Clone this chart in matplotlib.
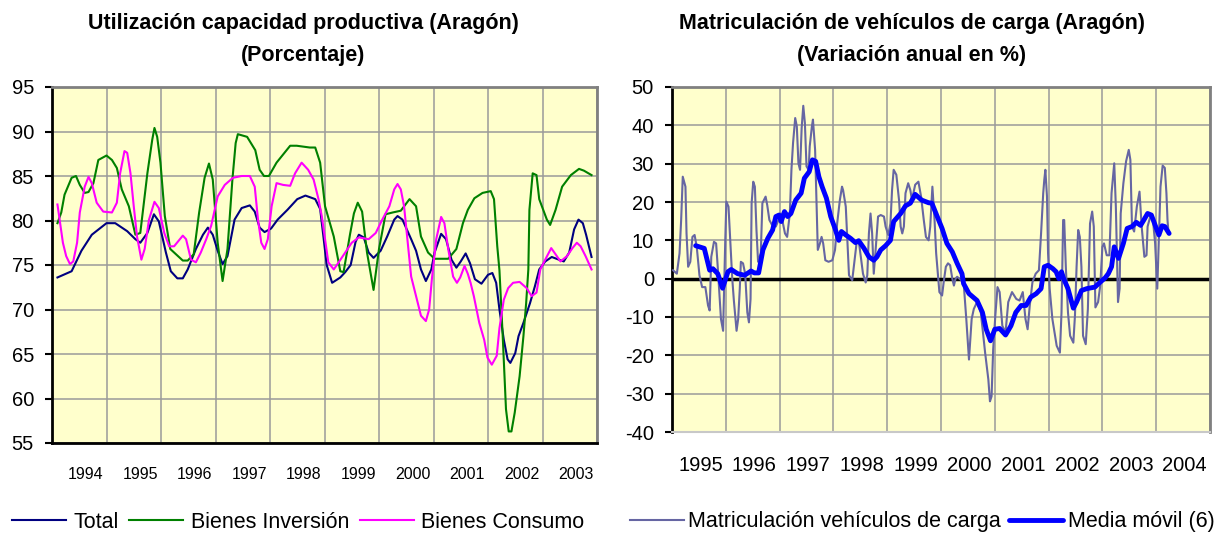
import matplotlib
matplotlib.use('Agg')
import matplotlib.pyplot as plt

plt.rcParams['font.family'] = ['Liberation Sans', 'DejaVu Sans']
plt.rcParams['axes.unicode_minus'] = False

# ---- Izquierda: utilización capacidad productiva (fecha decimal, %) ----
total_x = [1994.10, 1994.36, 1994.54, 1994.73, 1995.00, 1995.16, 1995.38, 1995.53, 1995.62, 1995.75,
           1995.87, 1995.96, 1996.09, 1996.18, 1996.30, 1996.40, 1996.49, 1996.64, 1996.77, 1996.86,
           1996.95, 1997.04, 1997.13, 1997.22, 1997.35, 1997.48, 1997.63, 1997.72, 1997.81, 1997.90,
           1998.02, 1998.14, 1998.32, 1998.50, 1998.65, 1998.83, 1998.92, 1998.98, 1999.04, 1999.14,
           1999.29, 1999.38, 1999.48, 1999.57, 1999.63, 1999.72, 1999.81, 1999.90, 2000.03, 2000.15,
           2000.28, 2000.34, 2000.43, 2000.59, 2000.68, 2000.77, 2000.86, 2000.96, 2001.02, 2001.14,
           2001.23, 2001.33, 2001.42, 2001.50, 2001.59, 2001.67, 2001.76, 2001.88, 2002.00, 2002.08,
           2002.15, 2002.21, 2002.29, 2002.36, 2002.41, 2002.50, 2002.56, 2002.65, 2002.77, 2002.86,
           2002.94, 2003.05, 2003.17, 2003.30, 2003.39, 2003.49, 2003.58, 2003.66, 2003.74, 2003.80,
           2003.90]
total_y = [73.6, 74.3, 76.6, 78.4, 79.7, 79.7, 78.8, 77.9, 77.5, 78.6,
           80.7, 79.9, 76.4, 74.3, 73.5, 73.5, 74.5, 76.8, 78.4, 79.2,
           78.4, 76.6, 75.1, 76.0, 80.1, 81.4, 81.7, 81.0, 79.2, 78.7,
           79.1, 80.1, 81.2, 82.4, 82.8, 82.4, 81.3, 78.2, 75.0, 73.0,
           73.6, 74.2, 75.0, 77.6, 78.4, 78.1, 76.4, 75.8, 76.6, 78.2,
           80.1, 80.5, 80.1, 77.9, 76.6, 74.5, 73.2, 74.5, 76.4, 78.5,
           77.9, 75.6, 74.7, 75.4, 76.3, 75.2, 73.4, 72.9, 73.9, 74.1,
           73.0, 70.0, 66.6, 64.4, 64.0, 65.1, 67.0, 68.5, 70.7, 72.6,
           74.5, 75.4, 75.9, 75.6, 75.4, 76.4, 79.0, 80.1, 79.7, 78.4,
           75.9]

inversion_x = [1994.10, 1994.17, 1994.23, 1994.36, 1994.44, 1994.51, 1994.60, 1994.67, 1994.76, 1994.85,
               1995.00, 1995.10, 1995.19, 1995.28, 1995.41, 1995.53, 1995.62, 1995.75, 1995.84, 1995.88,
               1995.93, 1995.99, 1996.07, 1996.17, 1996.40, 1996.49, 1996.60, 1996.70, 1996.80, 1996.88,
               1996.95, 1997.04, 1997.13, 1997.22, 1997.31, 1997.37, 1997.41, 1997.58, 1997.73, 1997.81,
               1997.89, 1997.98, 1998.12, 1998.37, 1998.49, 1998.73, 1998.83, 1998.92, 1999.01, 1999.17,
               1999.29, 1999.35, 1999.47, 1999.54, 1999.61, 1999.69, 1999.78, 1999.90, 2000.00, 2000.12,
               2000.25, 2000.40, 2000.56, 2000.68, 2000.77, 2000.90, 2001.02, 2001.27, 2001.42, 2001.54,
               2001.63, 2001.75, 2001.90, 2002.05, 2002.11, 2002.17, 2002.21, 2002.27, 2002.33, 2002.38,
               2002.43, 2002.49, 2002.58, 2002.65, 2002.70, 2002.74, 2002.76, 2002.82, 2002.89, 2002.94,
               2003.08, 2003.14, 2003.24, 2003.36, 2003.52, 2003.67, 2003.76, 2003.90]
inversion_y = [79.7, 80.9, 82.9, 84.8, 85.0, 84.0, 83.1, 83.2, 84.2, 86.8,
               87.3, 86.8, 85.9, 83.5, 81.6, 78.4, 78.6, 85.3, 89.1, 90.4,
               89.4, 86.5, 80.5, 76.8, 75.5, 75.5, 76.2, 80.9, 84.8, 86.4,
               84.6, 77.5, 73.2, 76.8, 84.6, 88.7, 89.7, 89.4, 87.9, 85.7,
               85.0, 85.0, 86.5, 88.4, 88.4, 88.2, 88.2, 86.5, 81.6, 78.2,
               74.3, 74.2, 78.5, 80.8, 82.0, 81.0, 76.4, 72.2, 76.8, 80.7,
               80.9, 81.1, 82.4, 81.6, 78.2, 76.4, 75.7, 75.7, 76.8, 79.7,
               81.2, 82.5, 83.1, 83.3, 82.4, 77.1, 74.4, 67.0, 58.8, 56.3,
               56.3, 58.4, 62.5, 67.0, 70.7, 74.5, 81.2, 85.3, 85.1, 82.4,
               80.1, 79.5, 81.2, 83.8, 85.1, 85.8, 85.6, 85.1]

consumo_x = [1994.10, 1994.14, 1994.20, 1994.26, 1994.33, 1994.39, 1994.46, 1994.51, 1994.60, 1994.67,
             1994.73, 1994.82, 1994.94, 1995.10, 1995.19, 1995.25, 1995.33, 1995.38, 1995.44, 1995.50,
             1995.56, 1995.64, 1995.70, 1995.78, 1995.88, 1995.96, 1996.06, 1996.15, 1996.24, 1996.40,
             1996.46, 1996.55, 1996.64, 1996.73, 1996.83, 1996.92, 1997.04, 1997.17, 1997.32, 1997.48,
             1997.63, 1997.72, 1997.78, 1997.84, 1997.90, 1997.96, 1998.03, 1998.12, 1998.24, 1998.37,
             1998.46, 1998.58, 1998.70, 1998.80, 1998.89, 1998.95, 1999.01, 1999.07, 1999.17, 1999.26,
             1999.38, 1999.50, 1999.63, 1999.81, 1999.94, 2000.06, 2000.19, 2000.28, 2000.34, 2000.40,
             2000.46, 2000.59, 2000.68, 2000.77, 2000.86, 2000.92, 2000.97, 2001.05, 2001.14, 2001.20,
             2001.27, 2001.36, 2001.43, 2001.49, 2001.57, 2001.63, 2001.68, 2001.74, 2001.84, 2001.93,
             2001.99, 2002.07, 2002.16, 2002.21, 2002.29, 2002.37, 2002.46, 2002.58, 2002.71, 2002.80,
             2002.89, 2002.96, 2003.05, 2003.16, 2003.24, 2003.33, 2003.45, 2003.55, 2003.63, 2003.70,
             2003.79, 2003.90]
consumo_y = [81.8, 80.1, 77.5, 76.0, 75.1, 75.4, 77.5, 80.9, 83.8, 84.9,
             84.2, 82.0, 81.0, 80.9, 82.0, 85.3, 87.8, 87.6, 85.3, 81.6,
             78.2, 75.6, 76.8, 80.1, 82.1, 81.4, 78.6, 77.1, 77.1, 78.3,
             77.9, 75.6, 75.3, 76.4, 77.9, 79.4, 82.7, 84.0, 84.8, 85.0,
             85.0, 83.8, 80.1, 77.5, 76.8, 77.9, 81.6, 84.2, 84.0, 83.9,
             85.3, 86.5, 85.7, 84.6, 82.4, 80.5, 77.9, 75.3, 74.5, 75.3,
             76.4, 77.5, 78.1, 77.9, 78.6, 80.1, 81.6, 83.5, 84.1, 83.5,
             81.6, 73.7, 71.5, 69.3, 68.7, 70.0, 73.4, 77.9, 80.4, 79.7,
             76.8, 73.7, 73.0, 73.6, 74.9, 74.0, 73.0, 71.5, 68.5, 66.6,
             64.6, 63.8, 64.8, 67.9, 71.1, 72.4, 73.0, 73.1, 72.4, 71.5,
             71.9, 74.5, 75.6, 76.9, 76.2, 75.4, 76.0, 76.9, 77.5, 77.1,
             76.0, 74.5]

anios_izq = list(range(1994, 2004))

# ---- Derecha: matriculación vehículos de carga (variación anual %) ----
matric_x = [1995.02, 1995.09, 1995.14, 1995.17, 1995.20, 1995.25, 1995.27, 1995.30, 1995.34, 1995.38,
            1995.42, 1995.46, 1995.51, 1995.56, 1995.62, 1995.67, 1995.70, 1995.73, 1995.78, 1995.82,
            1995.85, 1995.91, 1995.95, 1995.99, 1996.01, 1996.05, 1996.09, 1996.12, 1996.15, 1996.20,
            1996.23, 1996.26, 1996.28, 1996.32, 1996.36, 1996.40, 1996.43, 1996.46, 1996.48, 1996.51,
            1996.54, 1996.57, 1996.60, 1996.65, 1996.68, 1996.74, 1996.77, 1996.81, 1996.86, 1996.93,
            1996.98, 1997.02, 1997.05, 1997.10, 1997.14, 1997.19, 1997.22, 1997.25, 1997.29, 1997.32,
            1997.35, 1997.38, 1997.41, 1997.44, 1997.47, 1997.50, 1997.54, 1997.56, 1997.60, 1997.62,
            1997.66, 1997.68, 1997.71, 1997.75, 1997.78, 1997.81, 1997.85, 1997.91, 1997.98, 1998.03,
            1998.07, 1998.12, 1998.16, 1998.18, 1998.23, 1998.26, 1998.29, 1998.35, 1998.43, 1998.47,
            1998.51, 1998.55, 1998.60, 1998.63, 1998.66, 1998.69, 1998.72, 1998.75, 1998.78, 1998.83,
            1998.88, 1998.94, 1998.97, 1999.02, 1999.06, 1999.09, 1999.12, 1999.17, 1999.22, 1999.25,
            1999.28, 1999.31, 1999.34, 1999.39, 1999.43, 1999.46, 1999.52, 1999.58, 1999.63, 1999.68,
            1999.72, 1999.77, 1999.80, 1999.84, 1999.88, 1999.91, 1999.97, 2000.02, 2000.05, 2000.09,
            2000.13, 2000.17, 2000.21, 2000.24, 2000.27, 2000.30, 2000.42, 2000.47, 2000.52, 2000.57,
            2000.61, 2000.67, 2000.74, 2000.82, 2000.88, 2000.91, 2000.94, 2000.97, 2001.01, 2001.05,
            2001.09, 2001.14, 2001.20, 2001.25, 2001.32, 2001.36, 2001.40, 2001.46, 2001.52, 2001.57,
            2001.61, 2001.65, 2001.70, 2001.76, 2001.82, 2001.86, 2001.90, 2001.92, 2001.94, 2001.97,
            2001.99, 2002.02, 2002.07, 2002.15, 2002.21, 2002.24, 2002.27, 2002.29, 2002.32, 2002.36,
            2002.40, 2002.46, 2002.49, 2002.52, 2002.55, 2002.58, 2002.61, 2002.64, 2002.69, 2002.73,
            2002.77, 2002.81, 2002.84, 2002.87, 2002.92, 2002.96, 2003.00, 2003.03, 2003.08, 2003.13,
            2003.17, 2003.22, 2003.25, 2003.29, 2003.32, 2003.34, 2003.39, 2003.44, 2003.49, 2003.52,
            2003.55, 2003.59, 2003.64, 2003.69, 2003.73, 2003.78, 2003.82, 2003.84, 2003.89, 2003.94,
            2003.98, 2004.02, 2004.05, 2004.08, 2004.12, 2004.16, 2004.19, 2004.21, 2004.23]
matric_y = [2.2, 1.3, 6.6, 15.3, 26.6, 24.0, 11.8, 3.1, 4.4, 10.9,
            11.4, 8.3, 0.9, -2.2, -2.2, -7.0, -8.3, 5.7, 9.6, 9.2,
            3.1, -10.5, -13.6, 10.0, 20.1, 18.8, 8.3, 0.0, -5.7, -13.6,
            -10.5, -2.6, 4.4, 4.0, 1.3, -8.8, -11.4, -5.3, 19.7, 25.3,
            24.0, 12.7, 4.4, 6.6, 19.7, 21.4, 19.2, 15.3, 14.0, 13.6,
            15.3, 17.0, 15.3, 11.8, 10.9, 17.0, 28.4, 35.4, 41.9, 39.7,
            30.1, 28.4, 39.3, 45.1, 40.6, 29.3, 28.4, 34.5, 39.7, 41.5,
            33.6, 23.1, 7.5, 9.2, 10.9, 9.2, 4.8, 4.4, 4.8, 7.5,
            14.4, 20.5, 24.0, 23.1, 18.8, 10.0, 0.9, -0.4, 9.2, 10.0,
            5.7, 1.3, -1.0, 0.9, 11.8, 17.0, 11.8, 1.3, 6.6, 16.2,
            16.6, 16.2, 13.6, 11.4, 14.4, 23.1, 28.4, 27.1, 20.5, 13.6,
            11.8, 13.6, 22.3, 24.9, 23.1, 20.5, 24.5, 25.3, 21.4, 15.3,
            10.9, 10.0, 13.6, 24.0, 15.3, 6.6, -3.5, -4.4, -0.9, 3.1,
            4.0, 3.5, 0.0, -1.8, 0.0, 0.5, -0.9, -10.5, -21.1, -10.5,
            -7.9, -6.1, -8.8, -19.3, -26.3, -32.0, -30.7, -18.4, -9.6, -2.2,
            -3.5, -12.3, -14.0, -6.1, -3.5, -4.4, -5.3, -5.7, -3.5, -10.5,
            -13.2, -7.0, -0.9, 1.3, 2.2, 11.8, 22.3, 25.8, 28.4, 21.4,
            6.6, -2.6, -10.5, -17.5, -19.3, -8.8, 15.3, 15.3, 3.1, -8.8,
            -14.9, -16.7, -9.6, 3.1, 12.7, 10.9, 3.1, -14.9, -17.1, -7.9,
            14.4, 17.5, 13.6, -7.5, -6.1, -1.8, 8.3, 9.2, 6.1, 6.1,
            22.3, 30.1, 18.8, -6.1, -2.6, 17.0, 24.9, 30.6, 33.6, 31.0,
            13.6, 12.3, 18.8, 22.7, 13.6, 5.7, 6.1, 13.6, 16.2, 15.3,
            9.2, -2.6, 10.9, 24.0, 29.5, 28.9, 22.3, 15.3, 11.8]

media_x = [1995.44, 1995.60, 1995.70, 1995.76, 1995.85, 1995.94, 1996.04, 1996.10, 1996.22, 1996.35,
           1996.47, 1996.53, 1996.61, 1996.69, 1996.78, 1996.87, 1996.93, 1996.99, 1997.03, 1997.09,
           1997.15, 1997.21, 1997.30, 1997.40, 1997.46, 1997.55, 1997.61, 1997.67, 1997.73, 1997.79,
           1997.87, 1997.95, 1998.03, 1998.10, 1998.15, 1998.23, 1998.32, 1998.41, 1998.47, 1998.57,
           1998.66, 1998.75, 1998.81, 1998.88, 1998.97, 1999.06, 1999.12, 1999.25, 1999.34, 1999.43,
           1999.52, 1999.64, 1999.77, 1999.83, 1999.93, 2000.02, 2000.11, 2000.21, 2000.30, 2000.39,
           2000.42, 2000.52, 2000.67, 2000.77, 2000.84, 2000.92, 2001.00, 2001.09, 2001.20, 2001.30,
           2001.39, 2001.49, 2001.58, 2001.67, 2001.77, 2001.86, 2001.92, 2001.99, 2002.08, 2002.14,
           2002.19, 2002.24, 2002.28, 2002.36, 2002.46, 2002.52, 2002.61, 2002.71, 2002.86, 2002.96,
           2003.05, 2003.11, 2003.17, 2003.22, 2003.30, 2003.39, 2003.46, 2003.55, 2003.63, 2003.71,
           2003.77, 2003.84, 2003.91, 2003.99, 2004.05, 2004.11, 2004.16, 2004.24]
media_y = [8.6, 7.9, 2.2, 2.6, 1.3, -2.5, 1.8, 2.4, 1.3, 0.9,
           2.0, 1.5, 1.5, 7.5, 10.5, 12.7, 16.2, 16.6, 14.9, 17.5,
           16.2, 17.0, 20.5, 22.3, 26.2, 27.9, 31.0, 30.6, 26.6, 24.0,
           21.0, 16.2, 13.1, 10.0, 12.3, 11.4, 10.5, 9.4, 9.9, 7.9,
           5.7, 4.8, 5.7, 7.5, 8.6, 10.0, 14.9, 17.0, 19.0, 19.7,
           22.0, 20.5, 19.8, 19.7, 16.2, 13.1, 9.2, 7.0, 4.0, 1.3,
           -1.3, -3.9, -5.7, -8.8, -13.2, -16.2, -13.2, -13.0, -14.7, -12.3,
           -8.8, -7.0, -7.0, -4.8, -3.9, -2.6, 3.1, 3.5, 2.6, 1.8,
           0.0, 1.8, 0.0, -2.6, -7.7, -6.1, -3.1, -2.6, -2.2, -0.9,
           0.2, 1.3, 3.1, 8.3, 5.3, 9.2, 13.1, 13.6, 14.7, 13.9,
           15.3, 17.0, 16.6, 13.6, 11.4, 13.8, 13.6, 11.8]

anios_der = list(range(1995, 2005))

fondo = '#FFFFCC'
rejilla = '#9A9A9A'

fig = plt.figure(figsize=(12.2, 5.35), dpi=100)

# Grafico izquierdo
ax1 = fig.add_axes([52 / 1220, 1 - 443 / 535, 545 / 1220, 356 / 535])
ax1.set_facecolor(fondo)
l1, = ax1.plot(total_x, total_y, color='#000080', lw=1.5)
l2, = ax1.plot(inversion_x, inversion_y, color='#008000', lw=1.5)
l3, = ax1.plot(consumo_x, consumo_y, color='#FF00FF', lw=1.5)
ax1.set_xlim(1994, 2004)
ax1.set_ylim(55, 95)
ax1.set_yticks(range(55, 96, 5))
ax1.set_xticks([a for a in anios_izq] + [2004])
ax1.set_xticklabels([])
ax1.set_xticks([a + 0.62 for a in anios_izq], minor=True)
ax1.set_xticklabels([str(a) for a in anios_izq], minor=True, fontsize=11.5)
ax1.tick_params(axis='x', which='both', length=0)
ax1.tick_params(axis='x', which='minor', pad=17)
ax1.tick_params(axis='y', direction='out', length=5, width=1.5, pad=8, labelsize=14.5)
ax1.grid(True, color=rejilla, lw=1.1)
ax1.set_axisbelow(True)
ax1.spines['left'].set_color('black')
ax1.spines['left'].set_linewidth(2)
ax1.spines['bottom'].set_color('black')
ax1.spines['bottom'].set_linewidth(2)
ax1.spines['top'].set_color('#808080')
ax1.spines['top'].set_linewidth(2)
ax1.spines['right'].set_color('#808080')
ax1.spines['right'].set_linewidth(2)

fig.text(303 / 1220, 1 - 23 / 535, 'Utilización capacidad productiva (Aragón)',
         ha='center', va='center', fontsize=15.5, fontweight='bold')
fig.text(303 / 1220, 1 - 55 / 535, '(Porcentaje)',
         ha='center', va='center', fontsize=15.5, fontweight='bold')

# Grafico derecho
ax2 = fig.add_axes([672 / 1220, 1 - 432 / 535, 538 / 1220, 345 / 535])
ax2.set_facecolor(fondo)
ax2.axhline(0, color='black', lw=2.5, zorder=2)
l4, = ax2.plot(matric_x, matric_y, color='#6666A3', lw=1.5, zorder=3)
l5, = ax2.plot(media_x, media_y, color='#0000FF', lw=3.5, zorder=4,
               solid_joinstyle='round', solid_capstyle='round')
ax2.set_xlim(1995, 2005)
ax2.set_ylim(-40, 50)
ax2.set_yticks(range(-40, 51, 10))
ax2.set_xticks(anios_der + [2005])
ax2.set_xticklabels([])
ax2.set_xticks([a + 0.53 for a in anios_der], minor=True)
ax2.set_xticklabels([str(a) for a in anios_der], minor=True, fontsize=14.5)
ax2.tick_params(axis='x', which='both', length=0)
ax2.tick_params(axis='x', which='minor', pad=17)
ax2.tick_params(axis='y', direction='out', length=5, width=1.5, pad=8, labelsize=14.5)
ax2.grid(True, color=rejilla, lw=1.1)
ax2.set_axisbelow(True)
ax2.spines['left'].set_color('black')
ax2.spines['left'].set_linewidth(2)
ax2.spines['bottom'].set_color('#C8C8C8')
ax2.spines['bottom'].set_linewidth(1.5)
ax2.spines['top'].set_color('#808080')
ax2.spines['top'].set_linewidth(2)
ax2.spines['right'].set_color('#808080')
ax2.spines['right'].set_linewidth(2)

fig.text(912 / 1220, 1 - 23 / 535, 'Matriculación de vehículos de carga (Aragón)',
         ha='center', va='center', fontsize=15.5, fontweight='bold')
fig.text(912 / 1220, 1 - 55 / 535, '(Variación anual en %)',
         ha='center', va='center', fontsize=15.5, fontweight='bold')

# Leyendas
fig.legend([l1, l2, l3], ['Total', 'Bienes Inversión', 'Bienes Consumo'],
           loc='center left', bbox_to_anchor=(12 / 1220, 1 - 522 / 535), ncol=3,
           frameon=False, fontsize=15.5, handlelength=2.5, handletextpad=0.35,
           columnspacing=0.5, borderpad=0, borderaxespad=0)
fig.legend([l4, l5], ['Matriculación vehículos de carga', 'Media móvil (6)'],
           loc='center left', bbox_to_anchor=(630 / 1220, 1 - 522 / 535), ncol=2,
           frameon=False, fontsize=15.5, handlelength=2.5, handletextpad=0.2,
           columnspacing=0.4, borderpad=0, borderaxespad=0)

fig.savefig('out.png', dpi=100)
